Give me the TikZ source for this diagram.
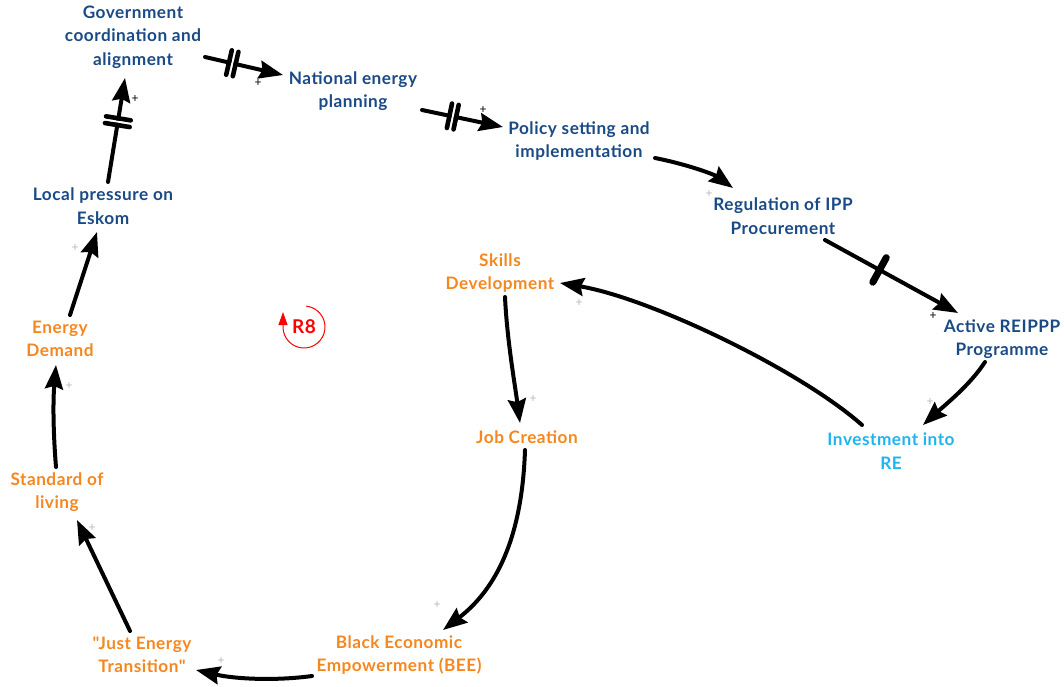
\documentclass[tikz,border=0pt]{standalone}
\usepackage{fontspec}
\setmainfont{Lato}[Ligatures=TeXOff, LetterSpace=3]
\usetikzlibrary{arrows.meta,decorations.markings,calc}
\definecolor{navy}{HTML}{1A4A86}
\definecolor{orng}{HTML}{F5871F}
\definecolor{lblue}{HTML}{1EB4F0}
\definecolor{plusgrey}{HTML}{B8B8B8}
\tikzset{
  lbl/.style={font=\bfseries\fontsize{17.2}{23.5}\selectfont, align=center, inner sep=0pt},
  vnavy/.style={lbl, text=navy},
  vorange/.style={lbl, text=orng},
  vlight/.style={lbl, text=lblue},
  link/.style={line width=4pt, line cap=round, -{Stealth[length=24pt,width=18pt,inset=3pt]}},
  pl/.style={font=\fontsize{12}{12}\selectfont, inner sep=0pt},
  plg/.style={pl, text=plusgrey},
  delaytwo/.style={postaction={decorate}, decoration={markings, mark=at position #1 with {
      \draw[-, white, line width=2.2pt] (0pt,-14pt)--(0pt,14pt);
      \draw[-, line width=4.6pt, line cap=round] (-3.4pt,-12.5pt)--(-3.4pt,12.5pt) (3.4pt,-12.5pt)--(3.4pt,12.5pt);}}},
  delayone/.style={postaction={decorate}, decoration={markings, mark=at position #1 with {
      \draw[-, line width=7pt, line cap=round] (0pt,-14pt)--(0pt,14pt);}}}
}
\begin{document}
\begin{tikzpicture}[x=1pt, y=-1pt]
\useasboundingbox (0,0) rectangle (1064,687);

% variables
\node[vnavy] (gov) at (133,37) {Government\\coordination and\\alignment};
\node[vnavy] (nat) at (353,91) {National energy\\planning};
\node[vnavy] (pol) at (579,141) {Policy setting and\\implementation};
\node[vnavy] (reg) at (783,216) {Regulation of IPP\\Procurement};
\node[vnavy] (act) at (1002,339) {Active REIPPP\\Programme};
\node[vlight] (inv) at (891,451) {Investment into\\RE};
\node[vorange] (ski) at (500,273) {Skills\\Development};
\node[vorange] (job) at (527,437) {Job Creation};
\node[vorange] (bee) at (399,655) {Black Economic\\Empowerment (BEE)};
\node[vorange] (jet) at (142,655) {"Just Energy\\Transition"};
\node[vorange] (sol) at (57,492) {Standard of\\living};
\node[vorange] (ed) at (60,339) {Energy\\Demand};
\node[vnavy] (lpe) at (103,206) {Local pressure on\\Eskom};

% links
\draw[link, delaytwo=0.58] ($(lpe)+(5,-24)$) -- ($(gov)+(-8,41)$);
\draw[link, delaytwo=0.35] ($(gov)+(72,20)$) -- ($(nat)+(-70,-16)$);
\draw[link, delaytwo=0.38] ($(nat)+(69,19)$) -- ($(pol)+(-76,-14)$);
\draw[link] ($(pol)+(76,17)$) .. controls (690,165) and (715,175) .. ($(reg)+(-50,-28)$);
\draw[link, delayone=0.41] ($(reg)+(42,24)$) -- ($(act)+(-44,-26)$);
\draw[link] ($(act)+(-17,23)$) .. controls (970,385) and (945,405) .. ($(inv)+(32,-26)$);
\draw[link] ($(inv)+(-29,-26)$) .. controls (800,370) and (650,298) .. ($(ski)+(60,10)$);
\draw[link] ($(ski)+(5,24)$) .. controls (507,340) and (515,385) .. ($(job)+(-7,-14)$);
\draw[link] ($(job)+(-2,13)$) .. controls (522,540) and (495,590) .. ($(bee)+(44,-25)$);
\draw[link] ($(bee)+(-87,21)$) .. controls (275,681) and (235,679) .. ($(jet)+(54,15)$);
\draw[link] ($(jet)+(-12,-24)$) -- ($(sol)+(20,28)$);
\draw[link] ($(sol)+(-1,-25)$) .. controls (53,430) and (53,400) .. ($(ed)+(-4,26)$);
\draw[link] ($(ed)+(10,-24)$) -- ($(lpe)+(-6,26)$);

% polarity signs
\node[pl] (p1) at (135,99) {+};
\node[pl] (p2) at (258,83) {+};
\node[pl] (p3) at (483,110) {+};
\node[plg] (p4) at (709,194) {+};
\node[pl] (p5) at (933,316) {+};
\node[plg] (p6) at (930,402) {+};
\node[plg] (p7) at (579,303) {+};
\node[plg] (p8) at (533,399) {+};
\node[plg] (p9) at (437,605) {+};
\node[plg] (p10) at (221,661) {+};
\node[plg] (p11) at (92,528) {+};
\node[plg] (p12) at (69,386) {+};
\node[plg] (p13) at (75,248) {+};

% loop marker
\node[font=\bfseries\fontsize{19}{19}\selectfont, text=red, inner sep=0pt] (r8) at (304,327) {R8};
\draw[red, line width=1pt, -{Triangle[length=13pt,width=9pt]}] (r8) ++(-84:21) arc[start angle=-84, end angle=180, radius=21] -- ++(0,-15);
\end{tikzpicture}
\end{document}
